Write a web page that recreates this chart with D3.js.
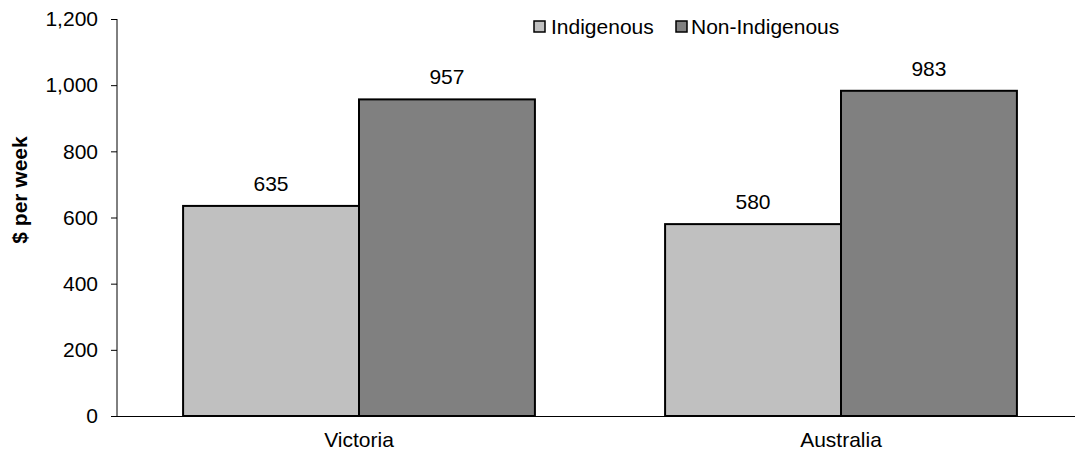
<!DOCTYPE html>
<html><head><meta charset="utf-8">
<script src="https://cdn.jsdelivr.net/npm/d3@7"></script>
<style>body{margin:0;background:#fff}svg{display:block}text{font-family:Arial,"Liberation Sans",sans-serif}</style>
</head><body>
<script>
const categories = ["Victoria", "Australia"];
const seriesNames = ["Indigenous", "Non-Indigenous"];
const indigenous = [635, 580];
const nonIndigenous = [957, 983];
const yTicks = [0, 200, 400, 600, 800, 1000, 1200];
const colors = ["#C0C0C0", "#808080"];

const W = 1075, H = 457, FS = 21;
const svg = d3.select("body").append("svg").attr("width", W).attr("height", H);
const x = d3.scaleBand().domain(categories).range([118, 1082]).paddingInner(0).paddingOuter(0);
const inner = d3.scaleBand().domain(seriesNames).range([0, x.bandwidth()]).paddingInner(0).paddingOuter(0.37);
const y = d3.scaleLinear().domain([0, 1200]).range([416, 19]);
const values = [indigenous, nonIndigenous];

// y axis
const ya = svg.append("g").attr("transform", "translate(117,0)")
  .call(d3.axisLeft(y).tickValues(yTicks).tickSize(6).tickPadding(13).tickFormat(d3.format(",")));
ya.select(".domain").attr("stroke", "#000").attr("d", "M0,19V416");
ya.selectAll(".tick line").attr("stroke", "#000");
ya.selectAll("text").attr("font-size", FS).attr("fill", "#000").style("font-family", "Arial, 'Liberation Sans', sans-serif");

// bars
categories.forEach((c, ci) => {
  seriesNames.forEach((s, si) => {
    const v = values[si][ci];
    const bx = x(c) + inner(s);
    svg.append("rect").attr("x", bx).attr("y", y(v)).attr("width", inner.bandwidth()).attr("height", y(0) - y(v))
      .attr("fill", colors[si]).attr("stroke", "#000").attr("stroke-width", 2);
    svg.append("text").attr("x", bx + inner.bandwidth() / 2).attr("y", y(v) - 15)
      .attr("text-anchor", "middle").attr("font-size", FS).attr("fill", "#000").text(d3.format(",")(v));
  });
});

// x axis
svg.append("line").attr("x1", 111).attr("x2", 1075).attr("y1", 416.5).attr("y2", 416.5).attr("stroke", "#000");
const xa = svg.append("g").attr("transform", "translate(0,416)")
  .call(d3.axisBottom(x).tickSize(0).tickPadding(16));
xa.select(".domain").remove();
xa.selectAll("text").attr("font-size", FS).attr("fill", "#000").style("font-family", "Arial, 'Liberation Sans', sans-serif");

// y title
svg.append("text").attr("transform", "translate(27,190) rotate(-90)").attr("text-anchor", "middle")
  .attr("font-size", FS).attr("font-weight", "bold").text("$ per week");

// legend
const leg = [[534, 551], [676, 691]];
seriesNames.forEach((s, i) => {
  svg.append("rect").attr("x", leg[i][0]).attr("y", 21).attr("width", 11).attr("height", 11)
    .attr("fill", colors[i]).attr("stroke", "#000").attr("stroke-width", 1.5);
  svg.append("text").attr("x", leg[i][1]).attr("y", 34).attr("font-size", FS).text(s);
});
</script>
</body></html>
